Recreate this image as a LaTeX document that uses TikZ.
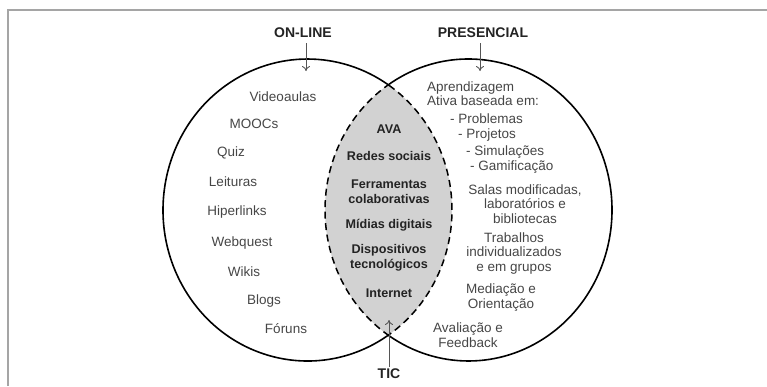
\documentclass[tikz,border=0pt]{standalone}
\usepackage{fontspec}
\setmainfont{Liberation Sans}
\usetikzlibrary{positioning, arrows.meta}

\begin{document}
\begin{tikzpicture}[x=1pt, y=-1pt,
        item/.style={text=txtgray, font=\fontsize{13.5}{14.5}\selectfont, inner sep=1pt, align=center},
        tic/.style={text=txtdark, font=\bfseries\fontsize{12.6}{15.5}\selectfont, inner sep=1pt, align=center},
        heading/.style={text=txtdark, font=\bfseries\fontsize{14}{16}\selectfont, inner sep=2pt},
        pointer/.style={-{To[length=5pt, width=8pt]}, line width=0.9pt, draw=arrowgray}]
        % cores
        \definecolor{txtgray}{RGB}{70, 70, 70}
        \definecolor{txtdark}{RGB}{35, 35, 35}
        \definecolor{arrowgray}{RGB}{85, 85, 85}
        \definecolor{lensgray}{RGB}{210, 210, 210}
        \definecolor{framegray}{RGB}{165, 165, 165}

        \useasboundingbox (0,0) rectangle (767,386);

        % moldura
        \draw[framegray, line width=1.5pt] (8,386) -- (8,10) -- (767,10);

        % centros das elipses
        \coordinate (cL) at (307.5,210);
        \coordinate (cR) at (468.5,210);

        % 1. Intersecção cinza (TIC)
        \begin{scope}
            \clip (cL) ellipse[x radius=144.5, y radius=151];
            \fill[lensgray] (cR) ellipse[x radius=143.5, y radius=151];
        \end{scope}

        % 2. Elipses: parte externa contínua, parte interna tracejada
        \draw[line width=1.6pt] (cL) ++(55.7:144.5 and 151)
            arc[start angle=55.7, end angle=304.3, x radius=144.5, y radius=151];
        \draw[line width=1.6pt] (cR) ++(-123.6:143.5 and 151)
            arc[start angle=-123.6, end angle=123.6, x radius=143.5, y radius=151];
        \draw[line width=1.5pt, dash pattern=on 7pt off 4.5pt] (cL) ++(-55.7:144.5 and 151)
            arc[start angle=-55.7, end angle=55.7, x radius=144.5, y radius=151];
        \draw[line width=1.5pt, dash pattern=on 7pt off 4.5pt] (cR) ++(123.6:143.5 and 151)
            arc[start angle=123.6, end angle=236.4, x radius=143.5, y radius=151];

        % 3. Títulos e setas
        \node[heading] (onlinelbl) at (303,33) {ON-LINE};
        \node[heading] (preslbl) at (483,33) {PRESENCIAL};
        \node[heading] (ticlbl) at (389,374) {TIC};
        \coordinate (onlinetip) at (306,71);
        \coordinate (prestip) at (480,71);
        \coordinate (tictip) at (389,320);
        \draw[pointer, shorten <=3pt] (onlinelbl.south -| onlinetip) -- (onlinetip);
        \draw[pointer, shorten <=3pt] (preslbl.south -| prestip) -- (prestip);
        \draw[pointer] (ticlbl.north) -- (tictip);

        % 4. Lista on-line
        \foreach \txt/\px/\py [count=\i] in {Videoaulas/283/97, MOOCs/254/124, Quiz/231/153,
                Leituras/233/182, Hiperlinks/237/212, Webquest/242/243,
                Wikis/244/272, Blogs/264/301, Fóruns/286/329} {
            \node[item] (ol\i) at (\px,\py) {\txt};
        }

        % 5. Lista TIC (centro)
        \node[tic] (ava) at (389,129) {AVA};
        \node[tic] (redes) at (389,156) {Redes sociais};
        \node[tic] (ferram) at (389,191.5) {Ferramentas\\colaborativas};
        \node[tic] (midias) at (389,225) {Mídias digitais};
        \node[tic] (disp) at (389,258) {Dispositivos\\tecnológicos};
        \node[tic] (internet) at (389,293) {Internet};

        % 6. Lista presencial
        \node[item, anchor=west, align=left] (aprend) at (426,93.5) {Aprendizagem\\Ativa baseada em:};
        \node[item, anchor=west] (probl) at (449,119) {- Problemas};
        \node[item, anchor=west] (proj) at (457,135) {- Projetos};
        \node[item, anchor=west] (simul) at (465,152) {- Simulações};
        \node[item, anchor=west] (gamif) at (469,167) {- Gamificação};
        \node[item] (salas) at (525,204) {Salas modificadas,\\laboratórios e\\bibliotecas};
        \node[item] (trab) at (514,253.5) {Trabalhos\\individualizados\\e em grupos};
        \node[item] (media) at (501,297.5) {Mediação e\\Orientação};
        \node[item] (aval) at (468,335) {Avaliação e\\Feedback};

    \end{tikzpicture}
\end{document}
